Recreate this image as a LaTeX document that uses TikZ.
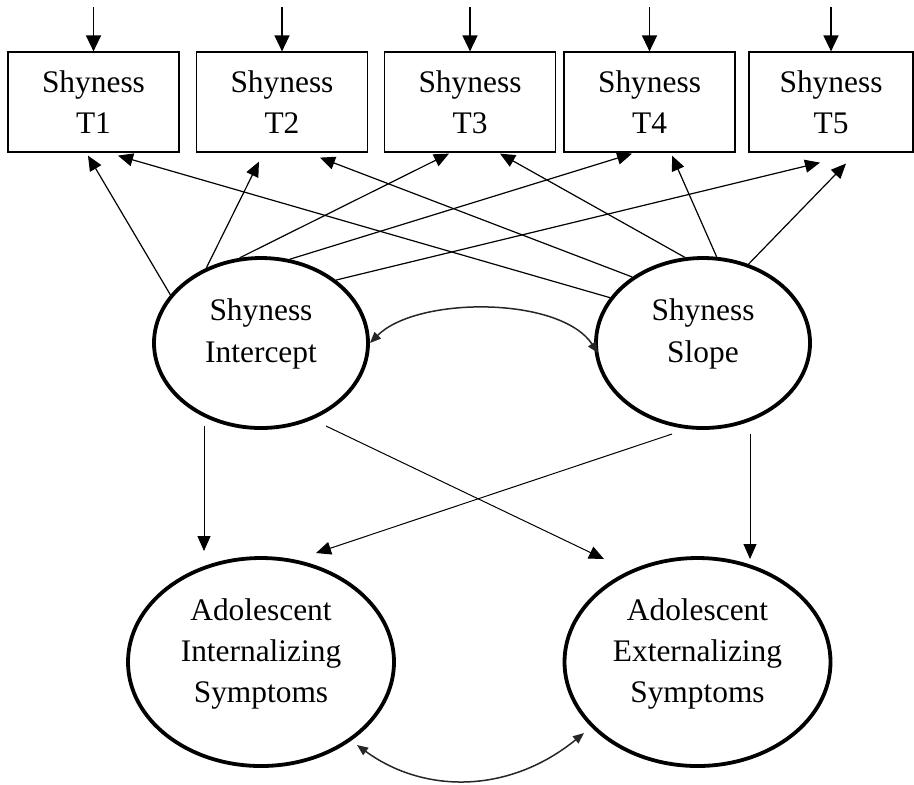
\documentclass[tikz,border=0pt]{standalone}
\usepackage{fontspec}
\setmainfont{Liberation Serif}
\usetikzlibrary{arrows.meta,shapes.geometric}
\begin{document}
\begin{tikzpicture}[x=0.5pt,y=-0.5pt,
    font=\fontsize{15.7}{20.7}\selectfont,
    obs/.style={draw,line width=0.6pt,minimum width=85.5pt,minimum height=50pt,
      align=center,inner sep=0pt},
    latent/.style={draw,ellipse,line width=1.9pt,inner sep=0pt},
    ltext/.style={align=center,inner sep=0pt},
    path/.style={line width=0.6pt,-{Triangle[length=7.5pt,width=6.5pt]}},
    cov/.style={draw=black!85,line width=0.75pt,
      {Triangle[length=5.5pt,width=4.5pt]}-{Triangle[length=5.5pt,width=4.5pt]}}]
  \useasboundingbox (0,0) rectangle (914,784);
  % observed shyness
  \node[obs] (t1) at (93.5,102) {Shyness\\T1};
  \node[obs] (t2) at (282,102) {Shyness\\T2};
  \node[obs] (t3) at (470,102) {Shyness\\T3};
  \node[obs] (t4) at (649.5,102) {Shyness\\T4};
  \node[obs,minimum width=82pt] (t5) at (831,102) {Shyness\\T5};
  % growth factors
  \node[latent,minimum width=107pt,minimum height=85pt] (icpt) at (261,343) {};
  \node[ltext] (icpt-text) at ([yshift=4.5pt]icpt.center) {Shyness\\Intercept};
  \node[latent,minimum width=107pt,minimum height=85pt] (slope) at (703,343) {};
  \node[ltext] (slope-text) at ([yshift=4.5pt]slope.center) {Shyness\\Slope};
  % outcomes
  \node[latent,minimum width=133pt,minimum height=104pt] (intl) at (261,662) {};
  \node[ltext] (intl-text) at ([yshift=4pt]intl.center) {Adolescent\\Internalizing\\Symptoms};
  \node[latent,minimum width=133pt,minimum height=104pt] (extl) at (697.5,662) {};
  \node[ltext] (extl-text) at ([yshift=4pt]extl.center) {Adolescent\\Externalizing\\Symptoms};
  % residuals
  \foreach \i in {1,...,5} {
    \coordinate (e\i) at ([yshift=22pt]t\i.north);
    \draw[path,line width=0.7pt,-{Triangle[length=8pt,width=7.5pt]}] (e\i) to (t\i.north);
  }
  \begin{scope}[path]
    \draw (icpt.152) to ([shift={(-5.5,3)}]t1.south);
    \draw (icpt.126) to ([shift={(-23,9)}]t2.south);
    \draw (icpt.104) to ([shift={(-21,1)}]t3.south);
    \draw (icpt.71) to ([shift={(-17.5,1)}]t4.south);
    \draw (icpt.40) to ([shift={(-11,10)}]t5.south);
    \draw (slope.154) to ([shift={(24.5,3)}]t1.south);
    \draw (slope.137) to ([shift={(38,5)}]t2.south);
    \draw (slope.102) to ([shift={(30,1)}]t3.south);
    \draw (slope.81) to ([shift={(22.5,3)}]t4.south);
    \draw (slope.60) to ([shift={(15,11)}]t5.south);
  \end{scope}
  \begin{scope}[path,line width=0.5pt]
    \draw ([shift={(-57,83)}]icpt.center) to ([shift={(-57,-111)}]intl.center);
    \draw ([shift={(65,83)}]icpt.center) to ([shift={(-93.5,-103)}]extl.center);
    \draw ([shift={(-31,91)}]slope.center) to ([shift={(55,-109)}]intl.center);
    \draw ([shift={(47,91)}]slope.center) to ([shift={(52.5,-103)}]extl.center);
  \end{scope}
  % covariances
  \draw[cov] ([shift={(109,0)}]icpt.center) .. controls +(47,-47) and +(-38,-57) .. ([shift={(-105,10)}]slope.center);
  \draw[cov] ([shift={(96,83)}]intl.center) .. controls +(67,49) and +(-75,61) .. ([shift={(-113.5,71)}]extl.center);
\end{tikzpicture}
\end{document}
